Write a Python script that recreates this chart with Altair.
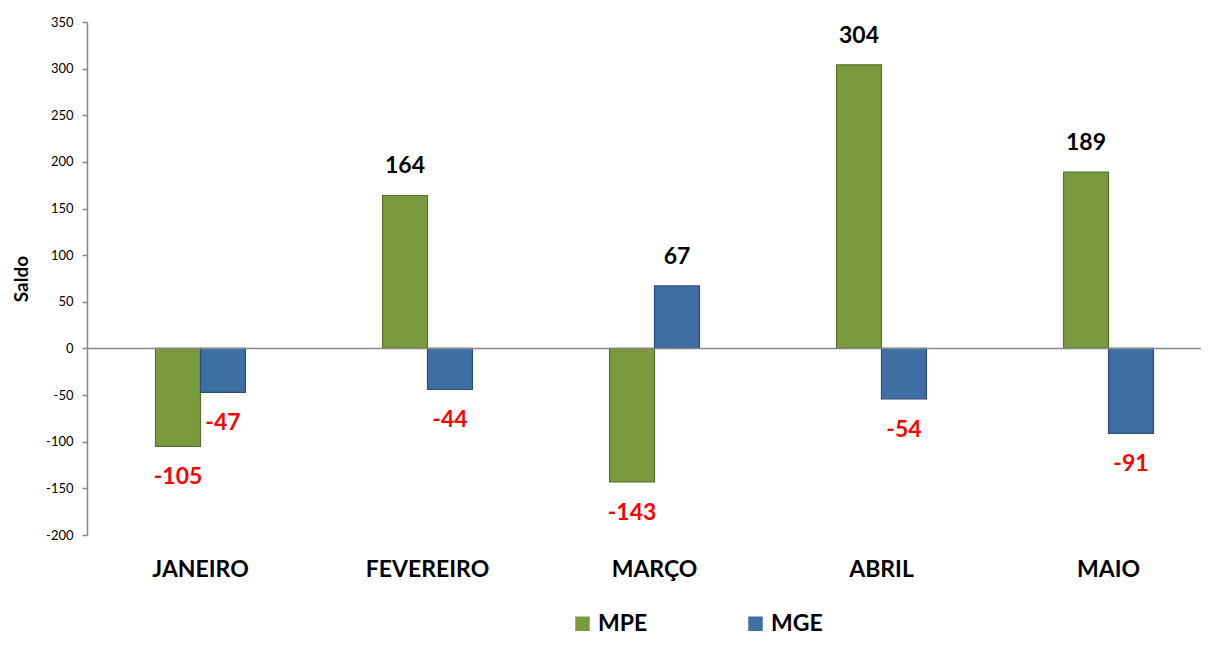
import altair as alt
import pandas as pd

months = ["JANEIRO", "FEVEREIRO", "MARÇO", "ABRIL", "MAIO"]
mpe = [-105, 164, -143, 304, 189]
mge = [-47, -44, 67, -54, -91]
series = ["MPE", "MGE"]
colors = ["#7a9a3e", "#3e6ea4"]
strokes = ["#55702a", "#2a4e7a"]

rows = []
for m, a, b in zip(months, mpe, mge):
    rows.append({"month": m, "series": "MPE", "value": a})
    rows.append({"month": m, "series": "MGE", "value": b})
df = pd.DataFrame(rows)

FONT = "Lato"
W_RANGE = 1135

x = alt.X("month:N", sort=months,
          scale=alt.Scale(range=[0, W_RANGE], paddingInner=0.604, paddingOuter=0.302),
          axis=alt.Axis(title=None, domain=False, ticks=False, labelAngle=0,
                        labelFontSize=23, labelFontWeight="bold", labelFont=FONT,
                        labelColor="black", labelPadding=23))
xo = alt.XOffset("series:N", sort=series, scale=alt.Scale(paddingInner=0, paddingOuter=0))
y = alt.Y("value:Q", stack=None,
          scale=alt.Scale(domain=[-200, 350], nice=False, zero=False),
          axis=alt.Axis(title="Saldo", values=list(range(-200, 351, 50)),
                        labelExpr="'' + datum.value",
                        grid=False, domainColor="#868686", domainWidth=1.5,
                        tickColor="#868686", tickSize=5, tickWidth=1.5,
                        labelFont=FONT, labelFontSize=13, labelColor="black",
                        labelPadding=9, titleFont=FONT, titleFontSize=19,
                        titleFontWeight="bold", titleColor="black", titlePadding=14))

base = alt.Chart(df).transform_calculate(label="'' + datum.value")

bars = base.mark_bar(strokeWidth=1.2).encode(
    x=x, xOffset=xo, y=y,
    color=alt.Color("series:N", sort=series,
                    scale=alt.Scale(domain=series, range=colors),
                    legend=alt.Legend(title=None, orient="none", legendX=484, legendY=590,
                                      direction="horizontal", symbolType="square",
                                      symbolSize=210, symbolStrokeWidth=0,
                                      labelFont=FONT, labelFontSize=23,
                                      labelFontWeight="bold", labelColor="black",
                                      columnPadding=96, labelOffset=4, padding=0)),
    stroke=alt.Stroke("series:N", sort=series,
                      scale=alt.Scale(domain=series, range=strokes), legend=None),
)

zero = alt.Chart(pd.DataFrame({"v": [0]})).mark_rule(color="#868686", strokeWidth=1.5).encode(
    y=alt.Y("v:Q"), x=alt.value(0), x2=alt.value(W_RANGE)
)

pos = base.transform_filter("datum.value >= 0").mark_text(
    dy=-29, fontSize=23, fontWeight="bold", font=FONT, color="black"
).encode(x=x, xOffset=xo, y=y, text=alt.Text("label:N"))

neg = base.transform_filter("datum.value < 0").mark_text(
    dy=31, fontSize=23, fontWeight="bold", font=FONT, color="#ff0000"
).encode(x=x, xOffset=xo, y=y, text=alt.Text("label:N"))

chart = alt.layer(bars, zero, pos, neg).properties(
    width=1114, height=513,
    autosize=alt.AutoSizeParams(type="none"),
    padding={"left": 79, "top": 14, "right": 0, "bottom": 103},
).configure_view(stroke=None)

chart.save("out.html", embed_options={"renderer": "svg", "actions": False})
